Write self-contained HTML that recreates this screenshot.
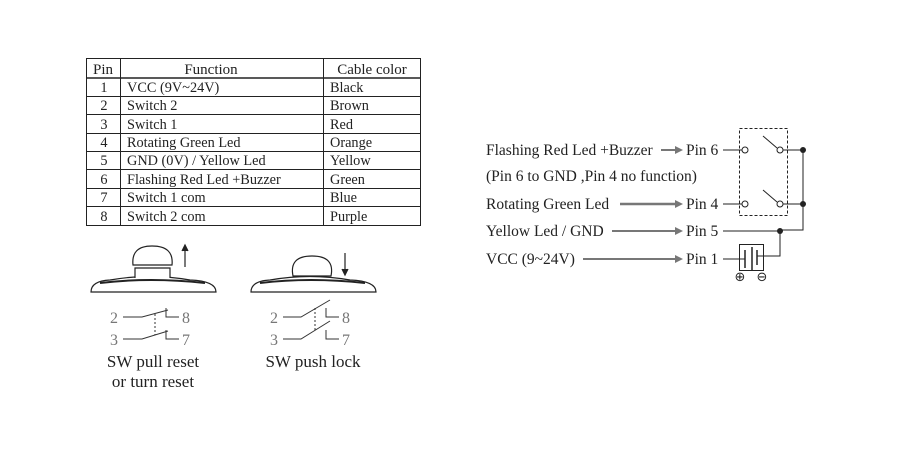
<!DOCTYPE html>
<html><head><meta charset="utf-8"><style>
html,body{margin:0;padding:0;background:#fff;}
svg{display:block;font-family:"Liberation Serif",serif;}
</style></head><body>
<svg width="900" height="451" viewBox="0 0 900 451" xmlns="http://www.w3.org/2000/svg">
<rect width="900" height="451" fill="#fff"/>
<g stroke="#222" stroke-width="1" fill="none">
<rect x="86.5" y="58.5" width="334" height="167"/>
<line x1="120.5" y1="58" x2="120.5" y2="226"/>
<line x1="323.5" y1="58" x2="323.5" y2="226"/>
<line x1="86" y1="78" x2="421" y2="78" stroke-width="1.5"/>
<line x1="86" y1="96.5" x2="421" y2="96.5"/>
<line x1="86" y1="114.5" x2="421" y2="114.5"/>
<line x1="86" y1="133.5" x2="421" y2="133.5"/>
<line x1="86" y1="151.5" x2="421" y2="151.5"/>
<line x1="86" y1="169.5" x2="421" y2="169.5"/>
<line x1="86" y1="188.5" x2="421" y2="188.5"/>
<line x1="86" y1="206.5" x2="421" y2="206.5"/>
</g>
<g font-size="14.3" fill="#222">
<text x="103" y="74" text-anchor="middle" font-size="15">Pin</text>
<text x="211" y="74" text-anchor="middle" font-size="15">Function</text>
<text x="372" y="74" text-anchor="middle" font-size="15">Cable color</text>
<g text-anchor="middle">
<text x="104" y="92">1</text><text x="104" y="110">2</text><text x="104" y="129">3</text><text x="104" y="147">4</text>
<text x="104" y="165">5</text><text x="104" y="184">6</text><text x="104" y="202">7</text><text x="104" y="221">8</text>
</g>
<text x="127" y="92">VCC (9V~24V)</text>
<text x="127" y="110">Switch 2</text>
<text x="127" y="129">Switch 1</text>
<text x="127" y="147">Rotating Green Led</text>
<text x="127" y="165">GND (0V) / Yellow Led</text>
<text x="127" y="184">Flashing Red Led +Buzzer</text>
<text x="127" y="202">Switch 1 com</text>
<text x="127" y="221">Switch 2 com</text>
<text x="330" y="92">Black</text>
<text x="330" y="110">Brown</text>
<text x="330" y="129">Red</text>
<text x="330" y="147">Orange</text>
<text x="330" y="165">Yellow</text>
<text x="330" y="184">Green</text>
<text x="330" y="202">Blue</text>
<text x="330" y="221">Purple</text>
</g>
<g stroke="#222" stroke-width="1.2" fill="#fff">
<path d="M91,292 Q91,281 110,280 Q150,273 190,280 Q216,281 216,292 Z"/>
<path d="M135,278 L135,268 L170,268 L170,278"/>
<path d="M133,265 Q131,246 152,246 Q174,246 172,265 Z"/>
<line x1="185" y1="267" x2="185" y2="246"/>
<path d="M182,251 L185,245 L188,251" fill="#222"/>
<path d="M251,292 Q251,281 270,280 Q310,273 350,280 Q376,281 376,292 Z"/>
<path d="M293,276 Q289,256 312,256 Q335,256 331,276 Z"/>
<line x1="345" y1="253" x2="345" y2="274"/>
<path d="M342,269 L345,275 L348,269" fill="#222"/>
</g>
<path d="M100,283 Q150,277 205,283" stroke="#222" stroke-width="2" fill="none"/>
<path d="M260,283 Q310,277 365,283" stroke="#222" stroke-width="2" fill="none"/>
<g stroke="#333" stroke-width="1" fill="none">
<path d="M123,317 L142,317 L168,310"/><path d="M166,308 L166,317 L179,317"/>
<path d="M123,339 L142,339 L168,331"/><path d="M166,330 L166,339 L179,339"/>
<line x1="155" y1="314" x2="155" y2="335" stroke-dasharray="2,2"/>
<path d="M283,317 L301,317 L330,300"/><path d="M326,308 L326,317 L339,317"/>
<path d="M283,339 L301,339 L330,321"/><path d="M326,330 L326,339 L339,339"/>
<line x1="315" y1="308" x2="315" y2="330" stroke-dasharray="2,2"/>
</g>
<g font-size="16" fill="#777">
<text x="110" y="323">2</text><text x="110" y="345">3</text><text x="182" y="323">8</text><text x="182" y="345">7</text>
<text x="270" y="323">2</text><text x="270" y="345">3</text><text x="342" y="323">8</text><text x="342" y="345">7</text>
</g>
<g font-size="17" fill="#222" text-anchor="middle">
<text x="153" y="367">SW pull reset</text>
<text x="153" y="387">or turn reset</text>
<text x="313" y="367">SW push lock</text>
</g>
<g font-size="15.5" fill="#222">
<text x="486" y="155">Flashing Red Led +Buzzer</text>
<text x="486" y="181">(Pin 6 to GND ,Pin 4 no function)</text>
<text x="486" y="209">Rotating Green Led</text>
<text x="486" y="236">Yellow Led / GND</text>
<text x="486" y="264">VCC (9~24V)</text>
<text x="686" y="155">Pin 6</text>
<text x="686" y="209">Pin 4</text>
<text x="686" y="236">Pin 5</text>
<text x="686" y="264">Pin 1</text>
</g>
<g stroke="#777" stroke-width="2" fill="#777">
<line x1="661" y1="150" x2="676" y2="150"/><path d="M675,146 L683,150 L675,154Z" stroke="none"/>
<line x1="620" y1="204" x2="676" y2="204" stroke-width="2.5"/><path d="M675,200 L683,204 L675,208Z" stroke="none"/>
<line x1="612" y1="231" x2="676" y2="231"/><path d="M675,227 L683,231 L675,235Z" stroke="none"/>
<line x1="583" y1="259" x2="676" y2="259"/><path d="M675,255 L683,259 L675,263Z" stroke="none"/>
</g>
<rect x="739.5" y="128.5" width="48" height="87" fill="none" stroke="#222" stroke-dasharray="3,2"/>
<g stroke="#222" stroke-width="1" fill="none">
<line x1="723" y1="150" x2="742" y2="150"/><circle cx="745" cy="150" r="3" fill="#fff"/>
<line x1="763" y1="136" x2="777" y2="148"/><circle cx="780" cy="150" r="3" fill="#fff"/>
<line x1="783" y1="150" x2="803" y2="150"/>
<line x1="723" y1="204" x2="742" y2="204"/><circle cx="745" cy="204" r="3" fill="#fff"/>
<line x1="763" y1="190" x2="777" y2="202"/><circle cx="780" cy="204" r="3" fill="#fff"/>
<line x1="783" y1="204" x2="803" y2="204"/>
<path d="M803,150 L803,230 L780,230"/>
<path d="M723,231 L780,231 L780,256 L757,256"/>
<line x1="723" y1="259" x2="745" y2="259"/>
<rect x="739.5" y="244.5" width="24" height="26" fill="none"/>
<line x1="745" y1="250" x2="745" y2="268" stroke-width="1.5"/>
<line x1="752" y1="247" x2="752" y2="270" stroke-width="1.5"/>
<line x1="757" y1="250" x2="757" y2="265" stroke-width="1.5"/>
</g>
<g fill="#222"><circle cx="803" cy="150" r="3"/><circle cx="803" cy="204" r="3"/><circle cx="780" cy="231" r="3"/></g>
<g font-size="13" fill="#222" font-family="DejaVu Sans,sans-serif" text-anchor="middle">
<text x="740" y="281">⊕</text><text x="762" y="281">⊖</text>
</g>
</svg>
</body></html>
